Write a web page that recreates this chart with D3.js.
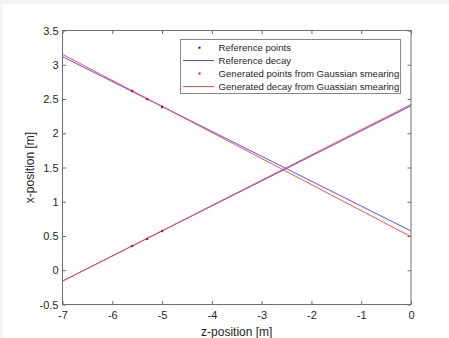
<!DOCTYPE html>
<html><head><meta charset="utf-8">
<script src="https://cdn.jsdelivr.net/npm/d3@7"></script>
<style>body{margin:0;background:#f5f5f5;}svg{display:block;}</style>
</head><body>
<svg id="c" width="449" height="338"></svg>
<script>
const xTicks = [-7,-6,-5,-4,-3,-2,-1,0];
const yTicks = [-0.5,0,0.5,1,1.5,2,2.5,3,3.5];
const legendLabels = ["Reference points","Reference decay","Generated points from Gaussian smearing","Generated decay from Guassian smearing"];
const refLineA = [[-7,3.118],[0,0.573]];
const refLineB = [[-7,-0.157],[0,2.40]];
const genLineA = [[-7,3.152],[0,0.49]];
const genLineB = [[-7,-0.160],[0,2.42]];
const refPoints = [[-5.6,2.615],[-5.3,2.497],[-5.0,2.381],[-5.6,0.353],[-5.3,0.458],[-5.0,0.571]];
const genPoints = [[-5.6,2.62],[-5.3,2.50],[-5.0,2.39],[-5.6,0.354],[-5.3,0.456],[-5.0,0.573]];

const svg = d3.select("#c");
svg.append("rect").attr("x",3).attr("y",4).attr("width",446).attr("height",334).attr("fill","#fff");
const L=62.5,R=411,T=30.5,B=304.5;
const x = d3.scaleLinear().domain([-7,0]).range([L,R]);
const y = d3.scaleLinear().domain([-0.5,3.5]).range([B,T]);
const font="Liberation Sans, Arial, sans-serif";
const axCol="#6e6e6e";

const g = svg.append("g");
const line = d3.line().x(d=>x(d[0])).y(d=>y(d[1]));
[[refLineA,"#4d4dff"],[refLineB,"#4d4dff"],[genLineA,"#ff4d4d"],[genLineB,"#ff4d4d"]].forEach(([d,c])=>{
  g.append("path").datum(d).attr("d",line).attr("fill","none").attr("stroke",c).attr("stroke-width",1);
});
g.selectAll(".rp").data(refPoints).enter().append("rect").attr("x",d=>x(d[0])-1).attr("y",d=>y(d[1])-1).attr("width",2).attr("height",2).attr("fill","#0000ff");
g.selectAll(".gp").data(genPoints).enter().append("rect").attr("x",d=>x(d[0])-1).attr("y",d=>y(d[1])-1).attr("width",2).attr("height",2).attr("fill","#ff0000");

function styleAxis(a){
  a.select(".domain").remove();
  a.selectAll("line").attr("stroke",axCol);
  a.selectAll("text").attr("fill","#262626").style("font-family",font).style("font-size","11px");
}
const fmt = d=>String(d);
styleAxis(svg.append("g").attr("transform",`translate(0,${B})`).call(d3.axisBottom(x).tickValues(xTicks).tickFormat(fmt).tickSizeInner(-3.5).tickSizeOuter(0).tickPadding(7)));
styleAxis(svg.append("g").attr("transform",`translate(0,${T})`).call(d3.axisTop(x).tickValues(xTicks).tickFormat("").tickSizeInner(-3.5).tickSizeOuter(0)));
styleAxis(svg.append("g").attr("transform",`translate(${L},0)`).call(d3.axisLeft(y).tickValues(yTicks).tickFormat(fmt).tickSizeInner(-3.5).tickSizeOuter(0).tickPadding(4)));
styleAxis(svg.append("g").attr("transform",`translate(${R},0)`).call(d3.axisRight(y).tickValues(yTicks).tickFormat("").tickSizeInner(-3.5).tickSizeOuter(0)));
svg.append("rect").attr("x",L).attr("y",T).attr("width",R-L).attr("height",B-T).attr("fill","none").attr("stroke",axCol).attr("stroke-width",1);

svg.append("text").attr("x",(L+R)/2).attr("y",336).attr("text-anchor","middle").attr("fill","#262626").style("font-family",font).style("font-size","12px").text("z-position [m]");
svg.append("text").attr("transform",`translate(34,${(T+B)/2}) rotate(-90)`).attr("text-anchor","middle").attr("fill","#262626").style("font-family",font).style("font-size","12px").text("x-position [m]");

// legend
const lg = svg.append("g");
lg.append("rect").attr("x",180.5).attr("y",39.5).attr("width",220).attr("height",54).attr("fill","#fff").attr("stroke","#888");
const rowsY=[47.7,60.5,73.5,86.5];
const types=[["pt","#0000ff"],["ln","#4d4dff"],["pt","#ff0000"],["ln","#ff4d4d"]];
legendLabels.forEach((t,i)=>{
  const [k,c]=types[i];
  if(k==="pt") lg.append("rect").attr("x",198.5).attr("y",rowsY[i]-1).attr("width",2).attr("height",2).attr("fill",c);
  else lg.append("line").attr("x1",183).attr("x2",214).attr("y1",rowsY[i]).attr("y2",rowsY[i]).attr("stroke",c);
  lg.append("text").attr("x",218.5).attr("y",rowsY[i]+3.5).attr("fill","#262626").style("font-family",font).style("font-size","9.6px").text(t);
});
</script>
</body></html>
